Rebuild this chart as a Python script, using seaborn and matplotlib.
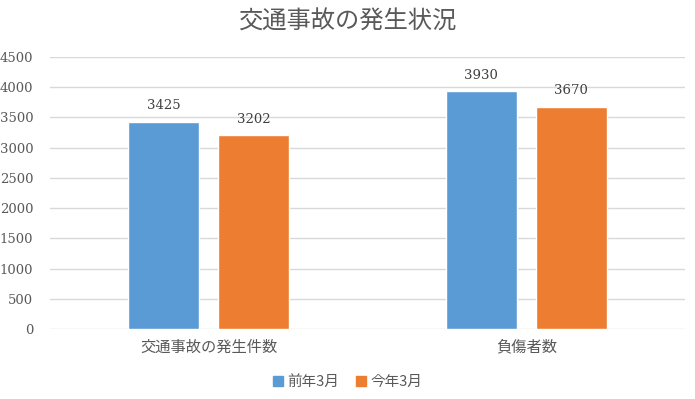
import pandas as pd
import matplotlib.pyplot as plt
import seaborn as sns

# データ
categories = ["交通事故の発生件数", "負傷者数"]
series = ["前年3月", "今年3月"]
prev_vals = [3425, 3930]
curr_vals = [3202, 3670]
yticks = [0, 500, 1000, 1500, 2000, 2500, 3000, 3500, 4000, 4500]

colors = ["#5B9BD5", "#ED7D31"]
TEXT = "#595959"
NUM_FONT = "DejaVu Serif"

df = pd.DataFrame({
    "category": categories * 2,
    "series": [series[0]] * 2 + [series[1]] * 2,
    "value": prev_vals + curr_vals,
})

sns.set_style("white")
plt.rcParams['font.family'] = ['Noto Sans CJK JP', 'DejaVu Sans']

fig = plt.figure(figsize=(6.95, 3.99), dpi=100)
ax = fig.add_axes([50 / 695, 70 / 399, 635 / 695, 272 / 399])

sns.barplot(data=df, x="category", y="value", hue="series", order=categories,
            hue_order=series, palette=colors, width=0.568, gap=0.21,
            saturation=1, legend=False, ax=ax, zorder=3)

for cont in ax.containers:
    ax.bar_label(cont, fmt="%d", padding=7, color="#404040", fontsize=9.5,
                 family=NUM_FONT)

ax.set_xlim(-0.5, 1.5)
ax.set_ylim(0, 4500)
ax.set_yticks(yticks)
ax.set_yticklabels([str(v) for v in yticks], family=NUM_FONT,
                   fontsize=9.5, color=TEXT)
ax.set_xticks(range(len(categories)))
ax.set_xticklabels(categories, fontsize=11, color=TEXT)
ax.tick_params(axis="both", length=0)
ax.tick_params(axis="x", pad=7)
ax.tick_params(axis="y", pad=12)
ax.grid(axis="y", color="#D9D9D9", linewidth=1, zorder=0)
ax.set_xlabel("")
ax.set_ylabel("")
for s in ax.spines.values():
    s.set_visible(False)

fig.text(0.5, 1 - 22 / 399, "交通事故の発生状況", ha="center", va="center",
         fontsize=17.5, color=TEXT)

handles = [plt.Rectangle((0, 0), 1, 1, color=c) for c in colors]
fig.legend(handles, series, loc="center", bbox_to_anchor=(0.5, 1 - 382 / 399),
           ncol=2, frameon=False, fontsize=10.5, labelcolor=TEXT,
           handlelength=0.65, handleheight=0.65, handletextpad=0.3,
           columnspacing=1.2)

fig.savefig("out.png", dpi=100, facecolor="white")
